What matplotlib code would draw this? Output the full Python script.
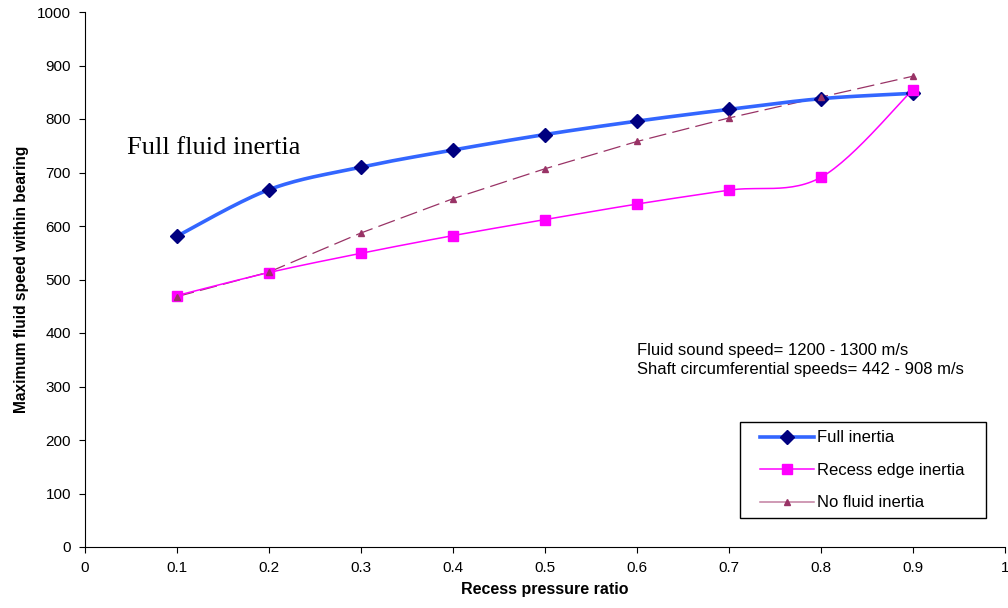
import numpy as np
import matplotlib
matplotlib.use("Agg")
import matplotlib.pyplot as plt
from matplotlib.lines import Line2D
from matplotlib.patches import Rectangle

ratio = [0.1, 0.2, 0.3, 0.4, 0.5, 0.6, 0.7, 0.8, 0.9]
full_inertia = [581, 668, 710, 742, 771, 796, 818, 838, 848]
recess_edge = [470, 513, 549, 582, 612, 641, 667, 691, 855]
no_inertia = [468, 514, 587, 651, 707, 758, 802, 841, 880]

W, H = 1008, 608


def smooth(x, y, n=30):
    # Catmull-Rom style smoothing, like Excel's smoothed line
    x = np.asarray(x, float)
    y = np.asarray(y, float)
    px = np.concatenate([[x[0]], x, [x[-1]]])
    py = np.concatenate([[y[0]], y, [y[-1]]])
    xs, ys = [], []
    for i in range(1, len(px) - 2):
        p0 = np.array([px[i], py[i]])
        p3 = np.array([px[i + 1], py[i + 1]])
        p1 = p0 + (np.array([px[i + 1], py[i + 1]]) - np.array([px[i - 1], py[i - 1]])) / 6
        p2 = p3 - (np.array([px[i + 2], py[i + 2]]) - np.array([px[i], py[i]])) / 6
        t = np.linspace(0, 1, n)[:, None]
        b = (1 - t) ** 3 * p0 + 3 * (1 - t) ** 2 * t * p1 + 3 * (1 - t) * t ** 2 * p2 + t ** 3 * p3
        xs.append(b[:, 0])
        ys.append(b[:, 1])
    return np.concatenate(xs), np.concatenate(ys)


plt.rcParams["font.family"] = ["Liberation Sans", "DejaVu Sans"]

fig = plt.figure(figsize=(W / 100, H / 100), dpi=100)
ax = fig.add_axes([85 / W, 1 - 547 / H, 920 / W, 535 / H])

sx, sy = smooth(ratio, full_inertia)
ax.plot(sx, sy, color="#3366FF", lw=2.6, zorder=3)
ax.plot(ratio, full_inertia, ls="none", marker="D", ms=7, color="#000080", zorder=4)

sx, sy = smooth(ratio, recess_edge)
ax.plot(sx, sy, color="#FF00FF", lw=1.1, zorder=3)
ax.plot(ratio, recess_edge, ls="none", marker="s", ms=7, color="#FF00FF", zorder=4)

ax.plot(ratio, no_inertia, color="#993366", lw=0.9, dashes=(14, 5), zorder=2)
ax.plot(ratio, no_inertia, ls="none", marker="^", ms=5, color="#993366", zorder=4)

ax.set_xlim(0, 1)
ax.set_ylim(0, 1000)
ax.set_xticks(np.arange(0, 1.01, 0.1))
ax.set_xticklabels(["0", "0.1", "0.2", "0.3", "0.4", "0.5", "0.6", "0.7", "0.8", "0.9", "1"])
ax.set_yticks(np.arange(0, 1001, 100))
ax.tick_params(direction="out", length=4, labelsize=11, pad=6)
ax.spines["top"].set_visible(False)
ax.spines["right"].set_visible(False)
ax.set_xlabel("Recess pressure ratio", fontsize=11.5, fontweight="bold", labelpad=5)
ax.set_ylabel("Maximum fluid speed within bearing", fontsize=11.2, fontweight="bold", labelpad=6)

ax.text(0.046, 745, "Full fluid inertia", family="Liberation Serif", fontsize=19, va="center")
ax.text(0.6, 350, "Fluid sound speed= 1200 - 1300 m/s\nShaft circumferential speeds= 442 - 908 m/s",
        fontsize=12, va="center", linespacing=1.3)

# legend frame drawn by hand so the side padding matches
fig.add_artist(Rectangle((740 / W, 1 - 518 / H), 246 / W, 96 / H, transform=fig.transFigure,
                         fill=False, edgecolor="black", lw=1.0))
handles = [
    Line2D([], [], color="#3366FF", lw=2.6, marker="D", ms=7, mfc="#000080", mec="#000080"),
    Line2D([], [], color="#FF00FF", lw=1.1, marker="s", ms=7),
    Line2D([], [], color="#C27FA0", lw=1.1, marker="^", ms=5, mfc="#993366", mec="#993366"),
]
fig.legend(handles, ["Full inertia", "Recess edge inertia", "No fluid inertia"],
           loc="upper left", bbox_to_anchor=(752 / W, 1 - 422 / H), fontsize=12,
           frameon=False, borderaxespad=0, handlelength=3.2,
           labelspacing=1.05, borderpad=0.5, handletextpad=0.2)

fig.savefig("out.png", dpi=100)
